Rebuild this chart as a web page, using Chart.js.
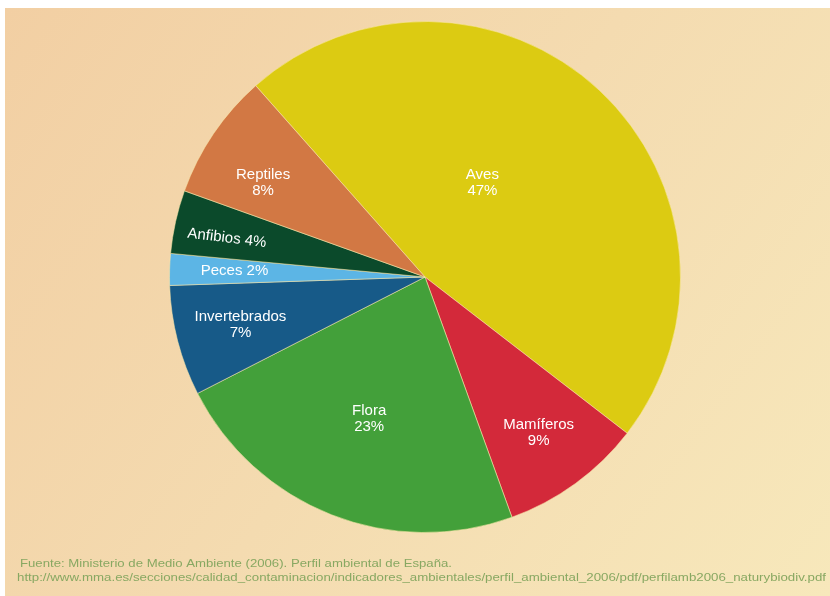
<!DOCTYPE html>
<html>
<head>
<meta charset="utf-8">
<script src="https://cdn.jsdelivr.net/npm/chart.js@4.4.0/dist/chart.umd.min.js"></script>
<style>
  html, body { margin: 0; padding: 0; background: #fff; }
  #wrap { position: absolute; left: 0; top: 0; width: 830px; height: 596px; }
</style>
</head>
<body>
<div id="wrap"><canvas id="pieChart" width="830" height="596"></canvas></div>
<script>
// Datos
const categorias = ["Aves", "Mamíferos", "Flora", "Invertebrados", "Peces", "Anfibios", "Reptiles"];
const porcentajes = [47, 9, 23, 7, 2, 4, 8];
const colores = ["#dccb12", "#d3293a", "#43a03a", "#175a88", "#5cb5e5", "#0b4a2b", "#d27844"];

// Posición de las etiquetas (fracción del radio, desvío angular en grados, una línea?)
const etiquetaRadio = [0.43, 0.755, 0.596, 0.746, 0.746, 0.79, 0.734];
const etiquetaDesvio = [-11.6, 0, 0, 0, 0, -1.4, -3.8];
const etiquetaUnaLinea = [false, false, false, false, true, true, false];
const etiquetaGiro = [0, 0, 0, 0, 0, 7, 0];

const fuente = [
  "Fuente: Ministerio de Medio Ambiente (2006). Perfil ambiental de España.",
  "http://www.mma.es/secciones/calidad_contaminacion/indicadores_ambientales/perfil_ambiental_2006/pdf/perfilamb2006_naturybiodiv.pdf",
];

// Fondo degradado + texto de la fuente
const fondo = {
  id: "fondo",
  beforeDraw(chart) {
    const c = chart.ctx;
    c.save();
    c.fillStyle = "#ffffff";
    c.fillRect(0, 0, 830, 596);
    const g = c.createLinearGradient(5, 8, 830, 596);
    g.addColorStop(0, "#f2cfa3");
    g.addColorStop(0.5, "#f4dbb0");
    g.addColorStop(1, "#f7e8bb");
    c.fillStyle = g;
    c.fillRect(5, 8, 825, 588);
    c.fillStyle = "#88a862";
    c.font = "11px 'Liberation Sans', Arial, sans-serif";
    c.textBaseline = "middle";
    const lineas = [[20, 564, 432], [17, 578, 809]];
    fuente.forEach((t, i) => {
      const [x, y, ancho] = lineas[i];
      const w = c.measureText(t).width;
      c.save();
      c.translate(x, y);
      c.scale(ancho / w, 1);
      c.fillText(t, 0, 0);
      c.restore();
    });
    c.restore();
  },
};

// Etiquetas dentro de los sectores
const etiquetas = {
  id: "etiquetas",
  afterDatasetsDraw(chart) {
    const c = chart.ctx;
    const meta = chart.getDatasetMeta(0);
    c.save();
    c.fillStyle = "#ffffff";
    c.font = "15px 'Liberation Sans', Arial, sans-serif";
    c.textAlign = "center";
    c.textBaseline = "middle";
    meta.data.forEach((arc, i) => {
      const ang = (arc.startAngle + arc.endAngle) / 2 + etiquetaDesvio[i] * Math.PI / 180;
      const r = arc.outerRadius * etiquetaRadio[i];
      const x = arc.x + Math.cos(ang) * r;
      const y = arc.y + Math.sin(ang) * r;
      c.save();
      c.translate(x, y);
      c.rotate(etiquetaGiro[i] * Math.PI / 180);
      if (etiquetaUnaLinea[i]) {
        c.fillText(categorias[i] + " " + porcentajes[i] + "%", 0, 0);
      } else {
        c.fillText(categorias[i], 0, -8);
        c.fillText(porcentajes[i] + "%", 0, 8);
      }
      c.restore();
    });
    c.restore();
  },
};

const ctx = document.getElementById("pieChart").getContext("2d");
const pieChart = new Chart(ctx, {
  type: "pie",
  data: {
    labels: categorias,
    datasets: [
      {
        data: porcentajes,
        backgroundColor: colores,
        borderColor: "rgba(250, 232, 170, 0.55)",
        borderWidth: 1,
      },
    ],
  },
  options: {
    responsive: false,
    animation: false,
    rotation: -41.5,
    layout: {
      padding: { left: 169, right: 149, top: 21, bottom: 63 },
    },
    plugins: {
      legend: { display: false },
      tooltip: { enabled: false },
    },
  },
  plugins: [fondo, etiquetas],
});
</script>
</body>
</html>
